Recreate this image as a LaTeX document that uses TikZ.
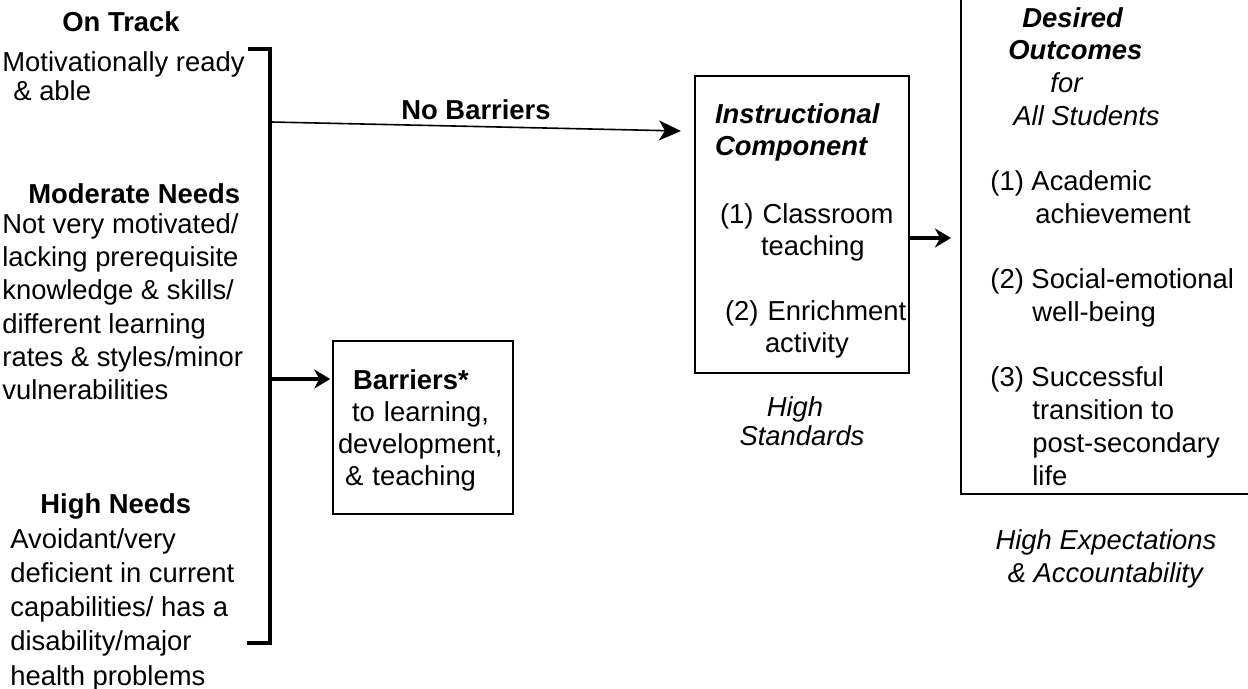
\documentclass[tikz,border=0pt]{standalone}
\usepackage{fontspec}
\setmainfont{Liberation Sans}
\usepackage{tikz}
\usetikzlibrary{arrows.meta,positioning}
\tikzstyle{txt} = [inner sep=0pt, align=left, anchor=north west]
\tikzstyle{blk} = [draw, line width=0.75pt, align=left, inner ysep=0pt]
\tikzstyle{bracket} = [draw, line width=2pt]
\tikzstyle{tedge}  = [draw, line width=0.8pt, -{Stealth[length=11pt, width=10pt, inset=3pt]}]
\tikzstyle{tedgeb} = [draw, line width=1.6pt, -{Stealth[length=8pt, width=9.5pt, inset=2.5pt]}]

\begin{document}
\begin{tikzpicture}[x=0.5pt, y=-0.5pt, font=\fontsize{13.7pt}{16.6pt}\selectfont]
\useasboundingbox (0,0) rectangle (1248,689);
\clip (0,0) rectangle (1248,689);

% students =============================

\node[txt] (ontrack) at (2,11) {\hspace*{30pt}\textbf{On Track}\\[3.4pt]
  Motivationally ready\\[-2.1pt] \hspace*{5.5pt}\& able};
\node[txt] (modneeds) at (2,183) {\hspace*{13pt}\textbf{Moderate Needs}\\[-1.5pt]
  Not very motivated/\\ lacking prerequisite\\ knowledge \& skills/\\
  different learning\\ rates \& styles/minor\\ vulnerabilities};
\node[txt, font=\fontsize{13.7pt}{17.1pt}\selectfont] (highneeds) at (10,493) {\hspace*{15pt}\textbf{High Needs}\\[0.4pt]
  Avoidant/very\\ deficient in current\\ capabilities/ has a\\
  disability/major\\ health problems};

% bracket
\draw[bracket] (248,49) -- (270,49) -- (270,643) -- (247,643);
\coordinate (br1) at (271,122);
\coordinate (br2) at (271,379);

% boxes =============================

\node[blk, font=\fontsize{13.7pt}{15.9pt}\selectfont, minimum width=90pt, minimum height=86.5pt,
  text width=85pt, inner xsep=2.5pt] (barr) at (423,427.5)
  {\rule{0pt}{12.9pt}\hspace*{7.5pt}\textbf{Barriers*}\\ \hspace*{7pt}\mbox{to learning,}\\
   development,\\ \hspace*{3.5pt}\mbox{\& teaching}};

\node[blk, font=\fontsize{13.7pt}{16pt}\selectfont, minimum width=107pt, minimum height=148.5pt,
  text width=87pt, inner xsep=10pt] (instr) at (802,224.5)
  {\rule{0pt}{15.9pt}\textbf{\textit{Instructional}}\\ \textbf{\textit{Component}}\\[18pt]
   \hspace*{2.5pt}\mbox{(1) Classroom}\\ \hspace*{23pt}teaching\\[16.5pt]
   \hspace*{5pt}\mbox{(2) Enrichment}\\ \hspace*{25pt}activity};
\node[txt, align=center, below=11pt of instr] (hstd) {\textit{High}\hspace*{7pt}\\[-2pt] \textit{Standards}};

\node[blk, minimum width=145pt, minimum height=257pt] (outbox) at (1106,237) {};
\node[txt, font=\fontsize{13.7pt}{16.35pt}\selectfont] (outtxt) at (990,7) {\hspace*{16pt}\textbf{\textit{Desired}}\\
  \hspace*{9pt}\textbf{\textit{Outcomes}}\\ \hspace*{30pt}\textit{for}\\
  \hspace*{11.5pt}\textit{All Students}\\[16.35pt]
  (1) Academic\\ \hspace*{22.5pt}achievement\\[16.35pt]
  (2) Social-emotional\\ \hspace*{21pt}well-being\\[16.35pt]
  (3) Successful\\ \hspace*{21pt}transition to\\ \hspace*{21pt}post-secondary\\ \hspace*{21pt}life};
\node[txt, align=center, below=17pt of outbox] (hexp) {\textit{High Expectations}\\ \textit{\& Accountability}};

% edges
\coordinate (instrin) at (681,131);
\coordinate (outin) at (951,238);
\path[tedge] (br1) -- node[above, inner sep=3pt] (nobarr) {\textbf{No Barriers}} (instrin);
\path[tedgeb, shorten >=1pt] (br2) -- (br2 -| barr.west);
\path[tedgeb] (outin -| instr.east) -- (outin);

\end{tikzpicture}
\end{document}
